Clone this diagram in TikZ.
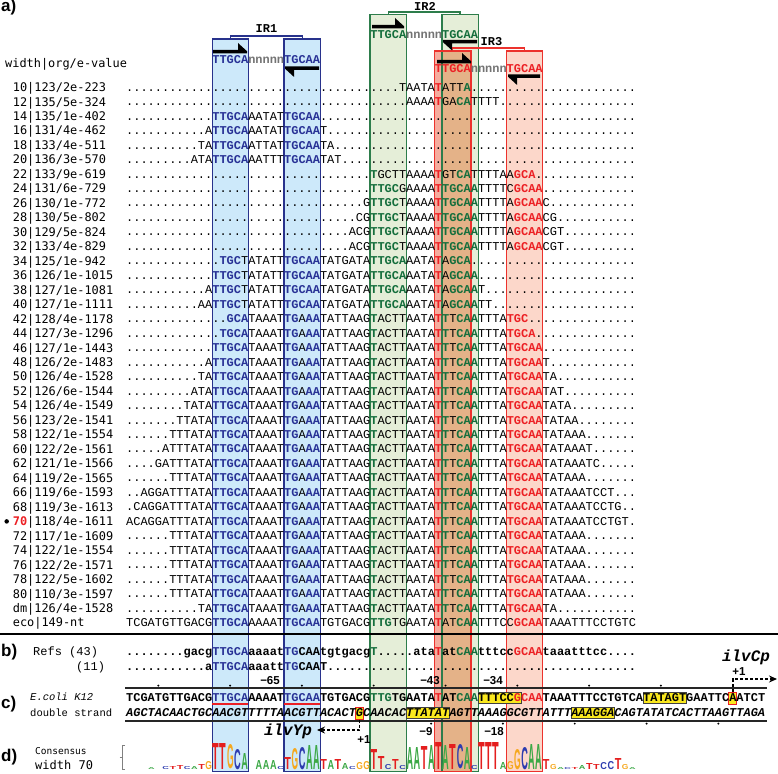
\documentclass[tikz,border=0pt]{standalone}
\usepackage{fontspec}
\usepackage{graphicx}
\usetikzlibrary{arrows.meta}

\newfontfamily\seqfont{Liberation Mono}
\newfontfamily\labfont{DejaVu Sans Mono}
\newfontfamily\headfont{Liberation Sans}

\definecolor{seqblue}{RGB}{40,50,150}
\definecolor{seqgreen}{RGB}{20,110,60}
\definecolor{seqred}{RGB}{236,32,36}
\definecolor{seqgray}{RGB}{115,115,115}
\definecolor{boxblue}{RGB}{40,50,140}
\definecolor{fillblue}{RGB}{205,233,250}
\definecolor{boxgreen}{RGB}{45,125,75}
\definecolor{fillgreen}{RGB}{229,238,216}
\definecolor{boxred}{RGB}{236,50,45}
\definecolor{fillredA}{RGB}{245,172,158}
\definecolor{fillredB}{RGB}{252,215,202}
\definecolor{filloverlap}{RGB}{228,178,136}
\definecolor{hlyellow}{RGB}{250,232,30}
\definecolor{lgT}{RGB}{228,30,30}
\definecolor{lgA}{RGB}{60,168,70}
\definecolor{lgC}{RGB}{45,60,175}
\definecolor{lgG}{RGB}{245,168,30}

\newcount\seqcol
\newcount\rowidx
\newtoks\seqtoks
\def\dd#1{\ifnum#1>0 .\expandafter\dd\expandafter{\the\numexpr#1-1\relax}\fi}
\def\core{TTGCATAAATTGAAATATTAAGTACTTAATATTTCAATTTATGCAA}
\def\sqB#1{{\color{seqblue}#1}}
\def\sqG#1{{\color{seqgreen}#1}}
\def\sqR#1{{\color{seqred}#1}}
\def\sqN#1{{\color{seqgray}#1}}
\def\hlch#1#2{{\color{#1}\bfseries#2}}

% consensus letter and colour of every column inside a half site
\def\setcons#1#2#3{\seqcol=#1\relax\def\conscolor{#3}\setconsloop#2\relax}
\def\setconsloop#1{\ifx#1\relax\else
    \expandafter\xdef\csname cs\the\seqcol\endcsname{#1}%
    \expandafter\xdef\csname cc\the\seqcol\endcsname{\conscolor}%
    \advance\seqcol by 1
    \expandafter\setconsloop\fi}
\setcons{12}{TTGCA}{seqblue}
\setcons{22}{TGCAA}{seqblue}
\setcons{43}{TTGCA}{seqred}
\setcons{53}{TGCAA}{seqred}
\setcons{34}{TTGCA}{seqgreen}
\setcons{44}{TGCAA}{seqgreen}

\def\buildloop#1{\ifx#1\relax\else
    \if#1\csname cs\the\seqcol\endcsname
        \edef\tmprow{\the\seqtoks\noexpand\hlch{\csname cc\the\seqcol\endcsname}{#1}}%
    \else
        \edef\tmprow{\the\seqtoks#1}%
    \fi
    \seqtoks=\expandafter{\tmprow}%
    \advance\seqcol by 1
    \expandafter\buildloop\fi}

\newcommand\seqrow[2]{%
    \edef\rowstr{#2}%
    \seqcol=0 \seqtoks={}%
    \expandafter\buildloop\rowstr\relax
    \pgfmathsetmacro\rowy{87.3+14.47*\rowidx}%
    \node[rowlab] (lab\the\rowidx) at (12.7,\rowy) {#1};
    \node[seqtxt] (row\the\rowidx) at (126,\rowy) {\the\seqtoks};
    \global\advance\rowidx by 1\relax}

\newcommand\rharp[3]{\fill[shift={(#1,#3)}] (0,0) -- ({#2-#1-9},0) -- ({#2-#1-9},-7) -- ({#2-#1},1.2) -- ({#2-#1},3.4) -- (0,3.4) -- cycle;}
\newcommand\lharp[3]{\fill[shift={(#1,#3)}] ({#2-#1},0) -- (0,0) -- (0,2.2) -- (9,10.4) -- (9,3.4) -- ({#2-#1},3.4) -- cycle;}

\begin{document}
\begin{tikzpicture}[x=1pt, y=-1pt,
        seqtxt/.style={anchor=west, inner sep=0pt, text height=7.8pt, text depth=0pt,
            font=\seqfont\fontsize{11.965}{14}\selectfont},
        seqbold/.style={seqtxt, font=\seqfont\fontsize{11.965}{14}\selectfont\bfseries},
        seqslant/.style={seqtxt, font=\seqfont\fontsize{11.965}{14}\selectfont\bfseries\itshape},
        rowlab/.style={anchor=west, inner sep=0pt, text height=8.5pt, text depth=0pt,
            font=\labfont\fontsize{11.9}{14}\selectfont},
        seclab/.style={anchor=west, inner sep=0pt, font=\headfont\bfseries\fontsize{17}{20}\selectfont},
        irlab/.style={inner sep=0pt, font=\seqfont\bfseries\fontsize{12}{14}\selectfont},
        boxfill/.style={anchor=north west, inner sep=0pt, minimum width=35.9pt},
        boxline/.style={line width=1.3pt},
        bracketline/.style={line width=1.2pt},
        hlbox/.style={anchor=west, inner sep=0pt, minimum height=11pt, fill=hlyellow, draw=black!75, line width=0.8pt},
        tssbox/.style={inner sep=0pt, minimum width=8pt, minimum height=12pt, fill=hlyellow, draw=seqred, line width=1pt},
        tssline/.style={densely dashed, line width=1.6pt, -{Stealth[length=8pt,width=7pt]}},
        strandline/.style={line width=1.5pt, black!85},
        poslab/.style={inner sep=0pt, font=\headfont\bfseries\fontsize{11.5}{13}\selectfont},
        ilvlab/.style={inner sep=0pt, font=\seqfont\bfseries\itshape\fontsize{16}{18}\selectfont},
        smalllab/.style={anchor=west, inner sep=0pt, font=\seqfont\fontsize{10.5}{12}\selectfont},
        conslab/.style={anchor=west, inner sep=0pt, font=\labfont\fontsize{9.5}{11}\selectfont},
        logoch/.style={anchor=south west, inner sep=0pt, font=\headfont\bfseries}]
        \useasboundingbox (0,0) rectangle (778,773);
        % the six half sites
        \node[boxfill, fill=fillblue, minimum height=732pt] (ir1left) at (212.16,39) {};
        \node[boxfill, fill=fillblue, minimum height=732pt] (ir1right) at (283.96,39) {};
        \node[boxfill, fill=fillgreen, minimum height=756.5pt] (ir2left) at (370.12,14.5) {};
        \node[boxfill, fill=fillgreen, minimum height=756.5pt] (ir2right) at (441.92,14.5) {};
        \node[boxfill, fill=fillredA, minimum height=720pt] (ir3left) at (434.74,51) {};
        \node[boxfill, fill=fillredB, minimum height=720pt] (ir3right) at (506.54,51) {};
        \fill[filloverlap] (ir2right.west |- ir3left.north) rectangle (ir3left.south east);
        \draw[boxline, boxblue] (ir1left.north west) rectangle (ir1left.south east);
        \draw[boxline, boxblue] (ir1right.north west) rectangle (ir1right.south east);
        \draw[boxline, boxgreen] (ir2left.north west) rectangle (ir2left.south east);
        \draw[boxline, boxgreen] (ir2right.north west) rectangle (ir2right.south east);
        \draw[boxline, boxred] (ir3left.north west) rectangle (ir3left.south east);
        \draw[boxline, boxred] (ir3right.north west) rectangle (ir3right.south east);
        \draw[bracketline, boxblue] (ir1left.north) -- ++(0,-3) -| (ir1right.north);
        \draw[bracketline, boxgreen] (ir2left.north) -- ++(0,-2.5) -| (ir2right.north);
        \draw[bracketline, boxred] (ir3left.north) -- ++(0,-3) -| (ir3right.north);
        \node[irlab] (ir1lab) at (266.5,29) {IR1};
        \node[irlab] (ir2lab) at (425,6.5) {IR2};
        \node[irlab] (ir3lab) at (491.5,42) {IR3};
        \rharp{213}{247}{50}
        \lharp{285}{319}{66.5}
        \rharp{372}{404}{25}
        \lharp{443}{477}{40}
        \rharp{437}{471}{60}
        \lharp{508}{540}{74.5}
        \node[seqbold] (ir1motif) at (212.16,60) {\sqB{TTGCA}\sqN{nnnnn}\sqB{TGCAA}};
        \node[seqbold] (ir2motif) at (370.12,34.3) {\sqG{TTGCA}\sqN{nnnnn}\sqG{TGCAA}};
        \node[seqbold] (ir3motif) at (434.74,68.5) {\sqR{TTGCA}\sqN{nnnnn}\sqR{TGCAA}};
        % a) alignment
        \node[seclab] (seca) at (1,7.5) {a)};
        \node[rowlab] (header) at (5,63) {width|org/e-value};
        \seqrow{10|123/2e-223}{\dd{38}TAATATATTA\dd{23}}
        \seqrow{12|135/5e-324}{\dd{39}AAAATGACATTTT\dd{19}}
        \seqrow{14|135/1e-402}{\dd{12}TTGCAAATATTGCAA\dd{44}}
        \seqrow{16|131/4e-462}{\dd{11}ATTGCAAATATTGCAAT\dd{43}}
        \seqrow{18|133/4e-511}{\dd{10}TATTGCAATTATTGCAATA\dd{42}}
        \seqrow{20|136/3e-570}{\dd{9}ATATTGCAAATTTTGCAATAT\dd{41}}
        \seqrow{22|133/9e-619}{\dd{34}TGCTTAAAATGTCATTTTAAGCA\dd{14}}
        \seqrow{24|131/6e-729}{\dd{34}TTGCGAAAATTGCAATTTTCGCAA\dd{13}}
        \seqrow{26|130/1e-772}{\dd{33}GTTGCTAAAATTGCAATTTTAGCAAC\dd{12}}
        \seqrow{28|130/5e-802}{\dd{32}CGTTGCTAAAATTGCAATTTTAGCAACG\dd{11}}
        \seqrow{30|129/5e-824}{\dd{31}ACGTTGCTAAAATTGCAATTTTAGCAACGT\dd{10}}
        \seqrow{32|133/4e-829}{\dd{31}ACGTTGCTAAAATTGCAATTTTAGCAACGT\dd{10}}
        \seqrow{34|125/1e-942}{\dd{13}TGCTATATTTGCAATATGATATTGCAAATATAGCA\dd{23}}
        \seqrow{36|126/1e-1015}{\dd{12}TTGCTATATTTGCAATATGATATTGCAAATATAGCAA\dd{22}}
        \seqrow{38|127/1e-1081}{\dd{11}ATTGCTATATTTGCAATATGATATTGCAAATATAGCAAT\dd{21}}
        \seqrow{40|127/1e-1111}{\dd{10}AATTGCTATATTTGCAATATGATATTGCAAATATAGCAATT\dd{20}}
        \seqrow{42|128/4e-1178}{\dd{14}GCATAAATTGAAATATTAAGTACTTAATATTTCAATTTATGC\dd{15}}
        \seqrow{44|127/3e-1296}{\dd{13}TGCATAAATTGAAATATTAAGTACTTAATATTTCAATTTATGCA\dd{14}}
        \seqrow{46|127/1e-1443}{\dd{12}\core\dd{13}}
        \seqrow{48|126/2e-1483}{\dd{11}A\core T\dd{12}}
        \seqrow{50|126/4e-1528}{\dd{10}TA\core TA\dd{11}}
        \seqrow{52|126/6e-1544}{\dd{9}ATA\core TAT\dd{10}}
        \seqrow{54|126/4e-1549}{\dd{8}TATA\core TATA\dd{9}}
        \seqrow{56|123/2e-1541}{\dd{7}TTATA\core TATAA\dd{8}}
        \seqrow{58|122/1e-1554}{\dd{6}TTTATA\core TATAAA\dd{7}}
        \seqrow{60|122/2e-1561}{\dd{5}ATTTATA\core TATAAAT\dd{6}}
        \seqrow{62|121/1e-1566}{\dd{4}GATTTATA\core TATAAATC\dd{5}}
        \seqrow{64|119/2e-1565}{\dd{6}TTTATA\core TATAAA\dd{7}}
        \seqrow{66|119/6e-1593}{\dd{2}AGGATTTATA\core TATAAATCCT\dd{3}}
        \seqrow{68|119/3e-1613}{\dd{1}CAGGATTTATA\core TATAAATCCTG\dd{2}}
        \seqrow{{\bfseries\color{seqred}70}|118/4e-1611}{ACAGGATTTATA\core TATAAATCCTGT\dd{1}}
        \seqrow{72|117/1e-1609}{\dd{6}TTTATA\core TATAAA\dd{7}}
        \seqrow{74|122/1e-1554}{\dd{6}TTTATA\core TATAAA\dd{7}}
        \seqrow{76|122/2e-1571}{\dd{6}TTTATA\core TATAAA\dd{7}}
        \seqrow{78|122/5e-1602}{\dd{6}TTTATA\core TATAAA\dd{7}}
        \seqrow{80|110/3e-1597}{\dd{6}TTTATA\core TATAAA\dd{7}}
        \seqrow{dm|126/4e-1528}{\dd{10}TA\core TA\dd{11}}
        \seqrow{eco|149-nt}{TCGATGTTGACGTTGCAAAAATTGCAATGTGACGTTGTGAATATATCAATTTCCGCAATAAATTTCCTGTC}
        \node[circle, fill, inner sep=0pt, minimum size=4.5pt] (mark70) at (6.7,521.4) {};
        \draw[line width=2.6pt] (0,634) -- (778,634);
        % b) reference sites
        \node[seclab] (secb) at (1,652) {b)};
        \node[smalllab, font=\seqfont\fontsize{12}{14}\selectfont] (refs) at (33,652) {Refs (43)};
        \node[smalllab, font=\seqfont\fontsize{12}{14}\selectfont] (refs11) at (76,667) {(11)};
        \node[seqbold] (refrow1) at (126,652) {........gacg\sqB{TTGCA}aaaat\sqB{TG}CAAtgtgacg\sqG{T}.....ata\sqR{T}at\sqG{CAA}tttcc\sqR{GCAA}taaatttcc....};
        \node[seqbold] (refrow2) at (126,667) {...........a\sqB{TTGCA}aaatt\sqB{TG}CAAT...........................................};
        % c) double strand
        \node[seclab] (secc) at (1,704) {c)};
        \node[smalllab, font=\seqfont\itshape\fontsize{10.5}{12}\selectfont] (ecoli) at (30,697) {E.coli K12};
        \node[smalllab] (dstrand) at (30,713) {double strand};
        \node[poslab] (m65) at (270,681) {−65};
        \node[poslab] (m43) at (430,681) {−43};
        \node[poslab] (m34) at (493,681) {−34};
        \node[poslab] (m9) at (426,732) {−9};
        \node[poslab] (m18) at (494,732) {−18};
        \draw[strandline] (125,688) -- (767,688);
        \draw[strandline] (125,721) -- (767,721);
        \foreach \tc in {4,14,...,74}
            \fill ({126+(\tc+0.5)*7.18},685.6) circle (1.1pt);
        \foreach \tc in {42,52,...,82}
            \fill ({126+(\tc+0.5)*7.18},723.6) circle (1.1pt);
        \node[hlbox, minimum width=43.1pt] (hbTTTCC) at (477.82,698) {};
        \node[hlbox, minimum width=43.1pt] (hbTATAGT) at (642.96,698) {};
        \node[hlbox, minimum width=43.1pt] (hbTTATAT) at (406.02,713) {};
        \node[hlbox, minimum width=43.1pt] (hbAAAGGA) at (571.16,713) {};
        \node[tssbox] (tssC) at (732.7,698) {};
        \node[tssbox] (tssY) at (359.35,713) {};
        \draw[seqred, line width=2pt] (212.16,704) -- (248.06,704);
        \draw[seqred, line width=2pt] (283.96,704) -- (319.86,704);
        \node[seqbold] (strandtop) at (126,698) {TCGATGTTGACG\sqB{TTGCA}AAAAT\sqB{TGCAA}TGTGACG\sqG{TTG}TGAATA\sqR{T}AT\sqG{CAA}TTTCC\sqR{GCAA}TAAATTTCCTGTCATATAGTGAATTCAATCT};
        \node[seqslant] (strandbot) at (126,713) {AGCTACAACTGCAACGTTTTTAACGTTACACTGCAACACTTATATAGTTAAAGGCGTTATTTAAAGGACAGTATATCACTTAAGTTAGA};
        \coordinate (ilvYend) at (317,730);
        \coordinate (ilvCend) at (777,679);
        \draw[tssline] (tssY.south) |- (ilvYend);
        \draw[tssline] (tssC.north) |- (ilvCend);
        \node[ilvlab] (ilvY) at (288,731) {ilvYp};
        \node[ilvlab] (ilvC) at (746,657) {ilvCp};
        \node[poslab] (plusY) at (364,740) {+1};
        \node[poslab] (plusC) at (739,672) {+1};
        % d) logo
        \node[seclab] (secd) at (1,757) {d)};
        \node[conslab] (cons) at (35,751.5) {Consensus};
        \node[conslab, font=\labfont\fontsize{12}{14}\selectfont] (width70) at (35,765.5) {width 70};
        \draw[gray, line width=0.6pt] (125,745) -- (122,745) -- (122,769.5) -- (125,769.5);
        \draw[gray, line width=0.6pt] (119.5,757.5) -- (122,757.5);
        \foreach \lc/\lt/\lh in {3/A/2, 5/C/3, 6/T/3, 7/T/4, 8/C/3, 9/A/3, 10/T/5, 11/G/8,
                12/T/26, 13/T/26, 14/G/24, 15/C/20, 16/A/16, 18/A/9, 19/A/9, 20/A/9, 21/C/3,
                22/T/12, 23/G/21, 24/C/22, 25/A/24, 26/A/24, 27/T/10, 28/A/9, 29/T/10,
                30/A/6, 31/C/3, 32/G/7, 33/G/8, 34/T/20, 35/T/13, 36/C/5, 37/T/10, 38/C/4,
                39/A/22, 40/A/22, 41/T/23, 42/A/24, 43/T/27, 44/A/24, 45/T/25, 46/C/24, 47/A/22, 48/C/4,
                49/T/27, 50/T/27, 51/T/27, 52/A/7, 53/G/8, 54/G/20, 55/C/22, 56/A/25, 57/A/25,
                58/T/10, 59/G/5, 60/A/2, 61/C/2, 62/T/2, 63/A/4, 64/T/6, 65/T/5, 66/C/7, 67/C/8,
                68/T/11, 69/G/5, 70/A/2}
            \node[logoch] (logo\lc) at ({126.3+\lc*7.18},769.5) {\color{lg\lt}\resizebox{6.6pt}{\lh pt}{\lt}};
    \end{tikzpicture}
\end{document}
